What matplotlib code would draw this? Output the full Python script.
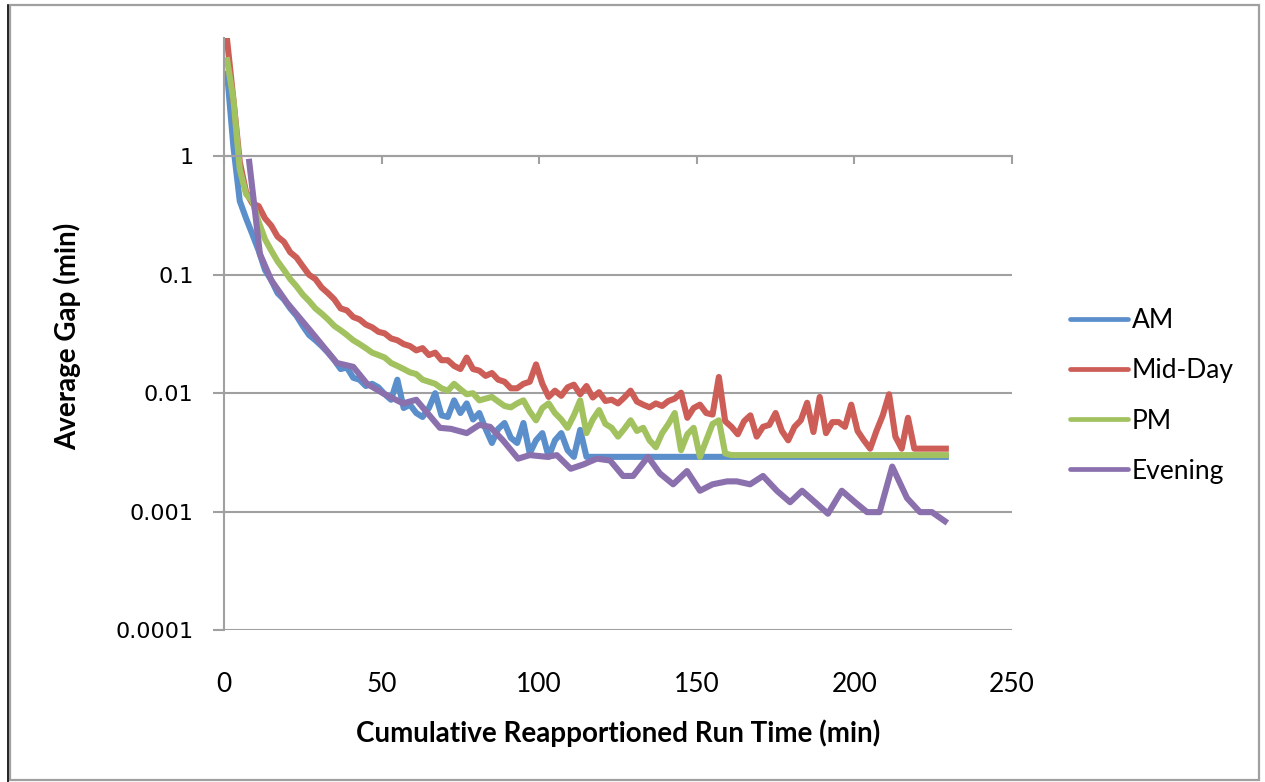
import matplotlib
matplotlib.use("Agg")
import matplotlib.pyplot as plt
import numpy as np
from matplotlib.patches import Rectangle
from matplotlib.lines import Line2D

# --- data ---
# AM / Mid-Day / PM are sampled every 2 min starting at 1 min
am = [5.0, 1.2, 0.42, 0.30, 0.22, 0.16, 0.11, 0.09, 0.07, 0.062,
      0.052, 0.045, 0.037, 0.031, 0.028, 0.025, 0.022, 0.019, 0.016, 0.0165,
      0.0135, 0.013, 0.0115, 0.012, 0.0112, 0.0098, 0.0088, 0.013, 0.0075, 0.0080,
      0.0068, 0.0063, 0.0075, 0.010, 0.0065, 0.0063, 0.0087, 0.0068, 0.0082, 0.0060,
      0.0068, 0.0050, 0.0038, 0.0050, 0.0056, 0.0042, 0.0038, 0.0056, 0.0031, 0.0040,
      0.0046, 0.0029, 0.0040, 0.0046, 0.0033, 0.0029, 0.0049] + [0.0029] * 58

midday = [9.5, 3.0, 0.9, 0.5, 0.40, 0.38, 0.30, 0.26, 0.21, 0.19,
          0.155, 0.14, 0.118, 0.10, 0.092, 0.078, 0.070, 0.062, 0.052, 0.050,
          0.044, 0.042, 0.038, 0.036, 0.033, 0.032, 0.029, 0.028, 0.026, 0.025,
          0.023, 0.024, 0.021, 0.022, 0.019, 0.019, 0.017, 0.016, 0.020, 0.016,
          0.0155, 0.014, 0.0148, 0.013, 0.0125, 0.011, 0.011, 0.012, 0.0125, 0.0175,
          0.012, 0.0093, 0.0105, 0.0095, 0.0112, 0.0118, 0.0098, 0.0115, 0.0092, 0.0102,
          0.0086, 0.0088, 0.0082, 0.0092, 0.0105, 0.0085, 0.0080, 0.0076, 0.0082, 0.0078,
          0.0086, 0.0090, 0.0101, 0.0062, 0.0075, 0.0080, 0.0068, 0.0066, 0.0137, 0.0058,
          0.0052, 0.0045, 0.0058, 0.0065, 0.0043, 0.0052, 0.0054, 0.0068, 0.0048, 0.0040,
          0.0052, 0.0059, 0.0083, 0.0047, 0.0093, 0.0046, 0.0057, 0.0057, 0.0052, 0.0080,
          0.0048, 0.0040, 0.0034, 0.0048, 0.0065, 0.0098, 0.0043, 0.0034, 0.0062, 0.0034,
          0.0034, 0.0034, 0.0034, 0.0034, 0.0034]

pm = [6.5, 3.0, 0.78, 0.48, 0.42, 0.28, 0.20, 0.16, 0.13, 0.11,
      0.092, 0.08, 0.068, 0.060, 0.052, 0.047, 0.042, 0.037, 0.034, 0.031,
      0.028, 0.026, 0.024, 0.022, 0.021, 0.020, 0.018, 0.017, 0.016, 0.015,
      0.0145, 0.013, 0.0125, 0.012, 0.011, 0.0105, 0.012, 0.0108, 0.0098, 0.010,
      0.0087, 0.0090, 0.0093, 0.0085, 0.0078, 0.0076, 0.0082, 0.0087, 0.0070, 0.0059,
      0.0075, 0.0082, 0.0068, 0.0060, 0.0051, 0.0065, 0.0087, 0.0046, 0.0060, 0.0072,
      0.0055, 0.0051, 0.0043, 0.0050, 0.0059, 0.0048, 0.0051, 0.0040, 0.0035, 0.0046,
      0.0055, 0.0068, 0.0033, 0.0045, 0.0051, 0.0029, 0.0040, 0.0055, 0.0059, 0.0031] + [0.0030] * 35

evening_x = [8, 11.4, 15, 20, 27.3, 35.8, 41, 45.4, 50.4, 56.8, 61, 68.5, 72, 77, 81,
             84.4, 88.5, 93.3, 97, 102.5, 105.6, 110, 114, 118.3, 122.5, 126.6, 129.8,
             134.5, 138.3, 142.5, 146.9, 151, 155, 159.6, 162.7, 166.9, 171, 175.4,
             179.6, 183.4, 187.5, 191.6, 196, 200.2, 204, 208, 212, 216.7, 220.8,
             224.6, 228.7]
evening = [0.9, 0.15, 0.09, 0.058, 0.034, 0.018, 0.0167, 0.012, 0.010, 0.0082, 0.0088,
           0.0051, 0.0050, 0.0046, 0.0054, 0.0052, 0.0040, 0.0028, 0.0030, 0.0029,
           0.0030, 0.0023, 0.0025, 0.0028, 0.0027, 0.0020, 0.0020, 0.0029, 0.0021,
           0.0017, 0.0022, 0.0015, 0.0017, 0.0018, 0.0018, 0.0017, 0.0020, 0.0015,
           0.0012, 0.0015, 0.0012, 0.00096, 0.0015, 0.0012, 0.00099, 0.00099, 0.0024,
           0.0013, 0.00099, 0.00099, 0.00083]

x_ticks = [0, 50, 100, 150, 200, 250]
y_ticks = [0.0001, 0.001, 0.01, 0.1, 1]
y_labels = ["0.0001", "0.001", "0.01", "0.1", "1"]

colors = {"AM": "#5b8fcb", "Mid-Day": "#cd5d57", "PM": "#a2c260", "Evening": "#8b70ae"}
grid_col = "#a0a0a0"

fig = plt.figure(figsize=(12.65, 7.82), dpi=100)
W, H = 1265, 782
ax = fig.add_axes([224 / W, 1 - 630 / H, (1012 - 224) / W, (630 - 38) / H])

def xs(vals):
    return np.arange(1, 1 + 2 * len(vals), 2)

lw = 4.4
ax.plot(xs(am), am, color=colors["AM"], lw=lw, label="AM", solid_joinstyle="round")
ax.plot(xs(midday), midday, color=colors["Mid-Day"], lw=lw, label="Mid-Day", solid_joinstyle="round")
ax.plot(xs(pm), pm, color=colors["PM"], lw=lw, label="PM", solid_joinstyle="round")
ax.plot(evening_x, evening, color=colors["Evening"], lw=lw, label="Evening", solid_joinstyle="round")

ax.set_yscale("log")
ax.set_ylim(1e-4, 10)
ax.set_xlim(0, 250)
ax.set_yticks(y_ticks)
ax.set_yticklabels(y_labels)
ax.yaxis.set_minor_locator(matplotlib.ticker.NullLocator())
ax.grid(axis="y", which="major", color=grid_col, lw=1.5)
ax.set_axisbelow(True)

for s in ["top", "right"]:
    ax.spines[s].set_visible(False)
ax.spines["left"].set_color(grid_col)
ax.spines["left"].set_linewidth(1.5)
# horizontal axis crosses at 1
ax.spines["bottom"].set_position(("data", 1))
ax.spines["bottom"].set_color(grid_col)
ax.spines["bottom"].set_linewidth(1.5)

ax.set_xticks(x_ticks)
ax.tick_params(axis="x", direction="out", length=6, width=1.5, color=grid_col, labelbottom=False)
ax.tick_params(axis="y", direction="out", length=8, width=1.5, color=grid_col, pad=14,
               labelsize=16, labelfontfamily="DejaVu Sans")

# tick labels of the x axis sit at the bottom of the plot
sec = ax.secondary_xaxis(0)
sec.spines["bottom"].set_visible(False)
sec.set_xticks(x_ticks)
sec.tick_params(length=0, pad=30, labelsize=19, labelfontfamily="Lato")

fig.text(618 / W, 1 - 733 / H, "Cumulative Reapportioned Run Time (min)", ha="center", va="center",
         fontsize=20, fontweight="bold", family="Lato")
fig.text(67 / W, 1 - 336 / H, "Average Gap (min)", ha="center", va="center", rotation=90,
         fontsize=20, fontweight="bold", family="Lato")

leg = ax.legend(loc="center left", bbox_to_anchor=(1070 / W, 1 - 396 / H), bbox_transform=fig.transFigure,
                frameon=False, prop={"family": "Lato", "size": 19}, handlelength=2.2,
                handletextpad=0.15, labelspacing=0.95, borderpad=0, borderaxespad=0)
for h in leg.get_lines():
    h.set_linewidth(3.4)
    h.set_solid_capstyle("round")

# chart frame
fig.patches.append(Rectangle((10 / W, 2 / H), 1249 / W, 775 / H, transform=fig.transFigure,
                             fill=False, edgecolor="#a0a0a0", lw=1.6))
fig.lines.append(Line2D([8 / W, 8 / W], [0, 777 / H], transform=fig.transFigure, color="black", lw=1.2))

fig.savefig("out.png", dpi=100, facecolor="white")
